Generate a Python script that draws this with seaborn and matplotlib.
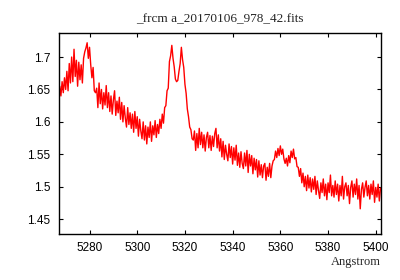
import numpy as np
import pandas as pd
import matplotlib
matplotlib.use("Agg")
import matplotlib.pyplot as plt
import matplotlib.ticker as mticker
import seaborn as sns

# spectrum sampled every 0.5 Angstrom, starting at 5267.5
wave_start = 5267.5
wave_step = 0.5
flux = [
    1.655, 1.640, 1.662, 1.645, 1.668, 1.650, 1.678, 1.648, 1.690, 1.660,
    1.700, 1.662, 1.712, 1.670, 1.695, 1.655, 1.692, 1.665, 1.688, 1.660,
    1.698, 1.708, 1.714, 1.722, 1.698, 1.715, 1.688, 1.668, 1.684, 1.648,
    1.645, 1.652, 1.622, 1.660, 1.628, 1.650, 1.620, 1.645, 1.626, 1.656,
    1.622, 1.645, 1.616, 1.640, 1.612, 1.634, 1.648, 1.610, 1.632, 1.614,
    1.638, 1.604, 1.630, 1.600, 1.625, 1.606, 1.592, 1.622, 1.596, 1.614,
    1.590, 1.612, 1.584, 1.616, 1.590, 1.608, 1.578, 1.604, 1.586, 1.574,
    1.600, 1.572, 1.594, 1.566, 1.592, 1.576, 1.600, 1.570, 1.594, 1.580,
    1.602, 1.576, 1.596, 1.582, 1.604, 1.590, 1.612, 1.598, 1.622, 1.625,
    1.648, 1.652, 1.693, 1.702, 1.718, 1.698, 1.685, 1.666, 1.662, 1.664,
    1.678, 1.690, 1.715, 1.696, 1.684, 1.658, 1.644, 1.620, 1.608, 1.592,
    1.588, 1.574, 1.572, 1.586, 1.556, 1.582, 1.560, 1.590, 1.565, 1.584,
    1.560, 1.580, 1.555, 1.576, 1.584, 1.560, 1.579, 1.556, 1.578, 1.562,
    1.582, 1.590, 1.560, 1.580, 1.555, 1.574, 1.546, 1.570, 1.542, 1.564,
    1.550, 1.540, 1.566, 1.545, 1.562, 1.535, 1.560, 1.541, 1.564, 1.533,
    1.552, 1.530, 1.554, 1.536, 1.528, 1.552, 1.532, 1.556, 1.522, 1.550,
    1.532, 1.548, 1.520, 1.544, 1.526, 1.542, 1.515, 1.540, 1.518, 1.534,
    1.514, 1.532, 1.536, 1.510, 1.530, 1.516, 1.536, 1.514, 1.532, 1.540,
    1.542, 1.555, 1.545, 1.559, 1.548, 1.563, 1.550, 1.558, 1.543, 1.536,
    1.544, 1.532, 1.548, 1.537, 1.555, 1.545, 1.558, 1.543, 1.545, 1.531,
    1.530, 1.516, 1.528, 1.506, 1.521, 1.500, 1.516, 1.494, 1.518, 1.498,
    1.514, 1.492, 1.512, 1.496, 1.516, 1.488, 1.509, 1.494, 1.482, 1.506,
    1.491, 1.512, 1.486, 1.504, 1.480, 1.506, 1.491, 1.518, 1.486, 1.502,
    1.484, 1.509, 1.488, 1.504, 1.478, 1.502, 1.486, 1.516, 1.481, 1.500,
    1.506, 1.486, 1.502, 1.474, 1.499, 1.509, 1.484, 1.504, 1.488, 1.512,
    1.481, 1.502, 1.466, 1.496, 1.506, 1.484, 1.499, 1.509, 1.486, 1.502,
    1.481, 1.504, 1.488, 1.509, 1.476, 1.499, 1.484, 1.504, 1.478, 1.498,
]
x_ticks = [5280, 5300, 5320, 5340, 5360, 5380, 5400]
y_ticks = [1.45, 1.5, 1.55, 1.6, 1.65, 1.7]

wave = wave_start + wave_step * np.arange(len(flux))
df = pd.DataFrame({"wave": wave, "flux": flux})

sns.set_style("ticks")
plt.rcParams["font.family"] = ["Liberation Sans", "DejaVu Sans"]

fig = plt.figure(figsize=(4, 2.8), dpi=100)
ax = fig.add_axes([0.1475, 0.164, 0.805, 0.718])
sns.lineplot(data=df, x="wave", y="flux", color="red", linewidth=1.0,
             estimator=None, ax=ax)

ax.set_xlim(5267.2, 5402.2)
ax.set_ylim(1.427, 1.737)
ax.set_xticks(x_ticks)
ax.set_yticks(y_ticks)
ax.yaxis.set_major_formatter(mticker.FormatStrFormatter("%g"))
ax.tick_params(direction="in", length=3, width=0.8, top=True, right=True,
               labelsize=8.5, colors="black", pad=6)
for s in ax.spines.values():
    s.set_visible(True)
    s.set_linewidth(1.0)
    s.set_color("black")

ax.set_title("_frcm a_20170106_978_42.fits", family="Liberation Serif",
             fontsize=9.5, pad=8)
ax.set_xlabel("Angstrom", family="Liberation Serif", fontsize=9,
              loc="right", labelpad=1)
ax.set_ylabel("")

fig.savefig("out.png", dpi=100)
